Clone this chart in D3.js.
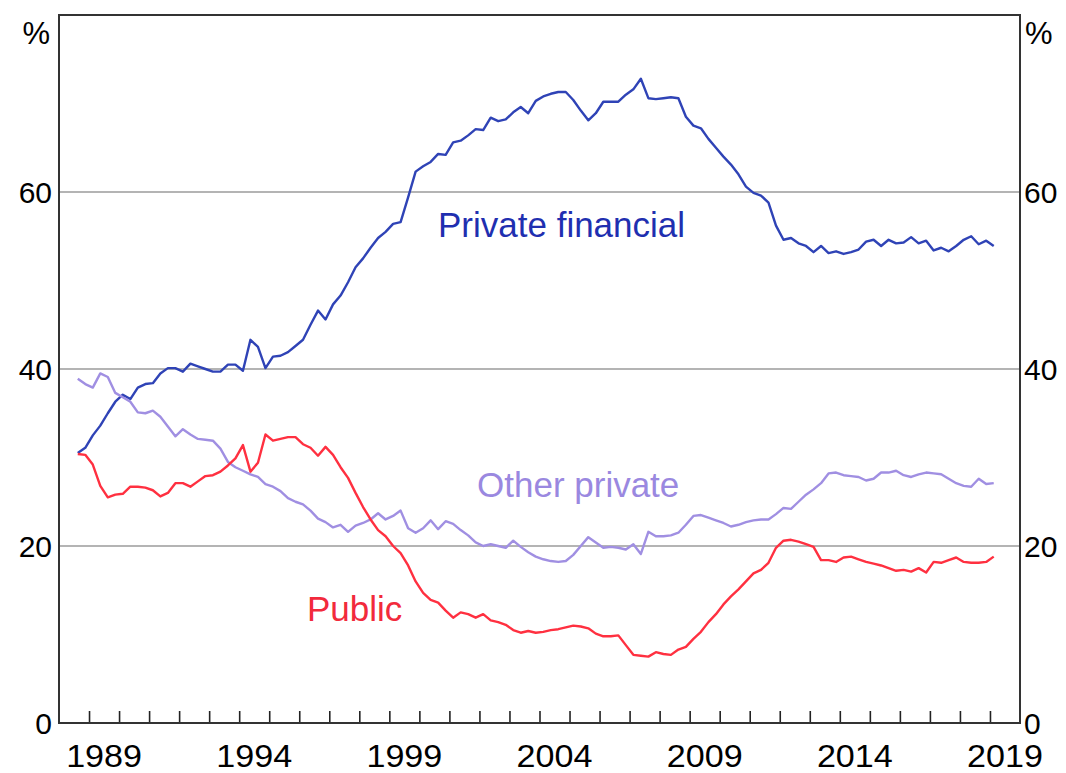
<!DOCTYPE html>
<html><head><meta charset="utf-8">
<script src="https://cdn.jsdelivr.net/npm/d3@7"></script>
<style>
html,body{margin:0;padding:0;background:#fff;}
svg{display:block;font-family:"Liberation Sans",Arial,sans-serif;}
</style></head>
<body><svg id="chart" width="1066" height="773"></svg>
<script>
// Quarterly observations, 1988 Q3 to 2019 Q1 (plotted at mid-quarter)
const firstQuarter = 1988.625;
const privateFinancial = [30.5,31.1,32.5,33.6,35.0,36.3,37.1,36.6,37.9,38.3,38.4,39.5,40.1,40.1,39.7,40.6,40.3,40.0,39.7,39.7,40.5,40.5,39.8,43.3,42.5,40.1,41.4,41.5,41.9,42.6,43.3,45.0,46.6,45.6,47.3,48.3,49.8,51.5,52.5,53.7,54.8,55.5,56.4,56.6,59.4,62.3,62.9,63.4,64.3,64.2,65.6,65.8,66.4,67.1,67.0,68.4,68.0,68.2,69.0,69.6,68.9,70.3,70.8,71.1,71.3,71.3,70.4,69.2,68.1,68.9,70.2,70.2,70.2,71.0,71.6,72.8,70.6,70.5,70.6,70.7,70.6,68.5,67.5,67.2,66.0,65.0,64.0,63.1,62.0,60.6,59.9,59.6,58.8,56.2,54.6,54.8,54.2,53.9,53.2,53.9,53.1,53.3,53.0,53.2,53.5,54.4,54.6,53.9,54.6,54.2,54.3,54.9,54.2,54.5,53.4,53.7,53.3,53.9,54.6,55.0,54.1,54.5,53.9];
const otherPrivate = [38.9,38.3,37.9,39.5,39.1,37.3,36.8,36.3,35.1,35.0,35.3,34.6,33.5,32.4,33.2,32.6,32.1,32.0,31.9,31.0,29.5,28.9,28.5,28.1,27.8,27.0,26.7,26.2,25.4,25.0,24.7,24.0,23.1,22.7,22.1,22.4,21.6,22.3,22.6,23.0,23.7,23.0,23.4,24.0,22.0,21.5,22.0,22.9,21.9,22.8,22.5,21.8,21.2,20.4,20.0,20.2,20.0,19.8,20.6,19.9,19.3,18.8,18.5,18.3,18.2,18.3,19.0,20.0,21.0,20.4,19.8,19.9,19.8,19.6,20.2,19.1,21.6,21.1,21.1,21.2,21.5,22.4,23.4,23.5,23.2,22.9,22.6,22.2,22.4,22.7,22.9,23.0,23.0,23.6,24.3,24.2,25.0,25.8,26.4,27.1,28.2,28.3,28.0,27.9,27.8,27.4,27.6,28.3,28.3,28.5,28.0,27.8,28.1,28.3,28.2,28.1,27.6,27.1,26.8,26.7,27.6,27.0,27.1];
const publicSector = [30.4,30.3,29.2,26.8,25.5,25.8,25.9,26.7,26.7,26.6,26.3,25.6,26.0,27.1,27.1,26.7,27.3,27.9,28.0,28.4,29.1,29.9,31.4,28.4,29.4,32.6,31.9,32.1,32.3,32.3,31.5,31.1,30.2,31.2,30.3,28.9,27.7,26.0,24.4,23.0,21.8,21.1,20.0,19.2,17.8,16.0,14.7,13.9,13.6,12.7,11.9,12.5,12.3,11.9,12.3,11.6,11.4,11.1,10.5,10.2,10.4,10.2,10.3,10.5,10.6,10.8,11.0,10.9,10.7,10.1,9.8,9.8,9.9,8.8,7.7,7.6,7.5,8.0,7.8,7.7,8.3,8.6,9.5,10.3,11.4,12.3,13.4,14.3,15.1,16.0,16.9,17.3,18.1,19.8,20.6,20.7,20.5,20.2,19.9,18.4,18.4,18.2,18.7,18.8,18.5,18.2,18.0,17.8,17.5,17.2,17.3,17.1,17.5,17.0,18.2,18.1,18.4,18.7,18.2,18.1,18.1,18.2,18.8];
const quarters = d3.range(privateFinancial.length).map(i => firstQuarter + i * 0.25);
const yearTicks = d3.range(1989, 2020);
const yearLabels = [1989, 1994, 1999, 2004, 2009, 2014, 2019];
const valueTicks = [0, 20, 40, 60];
const gridValues = [20, 40, 60];
const seriesNames = ["Private financial", "Other private", "Public"];

const svg = d3.select("#chart");
const mLeft = 59, mRight = 1020, mTop = 15, mBottom = 723;
const x = d3.scaleLinear().domain([1988, 2020]).range([mLeft, mRight]);
const y = d3.scaleLinear().domain([0, 80]).range([mBottom, mTop]);

// gridlines
svg.append("g").selectAll("line").data(gridValues).join("line")
  .attr("x1", mLeft).attr("x2", mRight)
  .attr("y1", d => y(d)).attr("y2", d => y(d))
  .attr("stroke", "#b4b4b4").attr("stroke-width", 2);

// bottom axis with inward ticks
const xAxis = d3.axisBottom(x).tickValues(yearTicks).tickSize(-12).tickFormat("");
const gx = svg.append("g").attr("transform", `translate(0,${mBottom})`).call(xAxis);
gx.select(".domain").remove();
gx.selectAll(".tick line").attr("stroke", "#222").attr("stroke-width", 1.6);

svg.append("g").selectAll("text").data(yearLabels).join("text")
  .attr("transform", d => `translate(${x(d + 0.5)},767) scale(1.1,1)`)
  .attr("text-anchor", "middle").attr("font-size", 31).attr("fill", "#000")
  .text(d => d);

// y labels
const yl = svg.append("g");
yl.selectAll("text.l").data(valueTicks).join("text").attr("class", "l")
  .attr("x", 52).attr("y", d => y(d)).attr("dy", "0.36em")
  .attr("text-anchor", "end").attr("font-size", 30).attr("fill", "#000").text(d => d);
yl.selectAll("text.r").data(valueTicks).join("text").attr("class", "r")
  .attr("x", 1024).attr("y", d => y(d)).attr("dy", "0.36em")
  .attr("text-anchor", "start").attr("font-size", 30).attr("fill", "#000").text(d => d);
svg.append("text").attr("x", 50).attr("y", 44).attr("text-anchor", "end")
  .attr("font-size", 31).text("%");
svg.append("text").attr("x", 1025).attr("y", 44).attr("text-anchor", "start")
  .attr("font-size", 31).text("%");

// frame
svg.append("path")
  .attr("d", `M${mLeft},${mBottom}V${mTop}H${mRight}V${mBottom}`)
  .attr("fill", "none").attr("stroke", "#333").attr("stroke-width", 2);
svg.append("line").attr("x1", mLeft - 1).attr("x2", mRight + 1).attr("y1", mBottom).attr("y2", mBottom)
  .attr("stroke", "#333").attr("stroke-width", 2);

// lines
const line = d3.line().x((d, i) => x(quarters[i])).y(d => y(d));
const series = [
  {name: seriesNames[0], values: privateFinancial, color: "#2f43b6"},
  {name: seriesNames[1], values: otherPrivate, color: "#a08fe2"},
  {name: seriesNames[2], values: publicSector, color: "#ff3040"}
];
svg.append("g").selectAll("path").data(series).join("path")
  .attr("d", d => line(d.values))
  .attr("fill", "none").attr("stroke", d => d.color).attr("stroke-width", 2.4)
  .attr("stroke-linejoin", "round");

// series labels
const labels = [
  {text: seriesNames[0], x: 438, y: 237, color: "#1f2fb0"},
  {text: seriesNames[1], x: 477, y: 497, color: "#9a88e0"},
  {text: seriesNames[2], x: 307, y: 621, color: "#f22a3c"}
];
svg.append("g").selectAll("text").data(labels).join("text")
  .attr("x", d => d.x).attr("y", d => d.y).attr("fill", d => d.color)
  .attr("font-size", 35).text(d => d.text);
</script></body></html>
